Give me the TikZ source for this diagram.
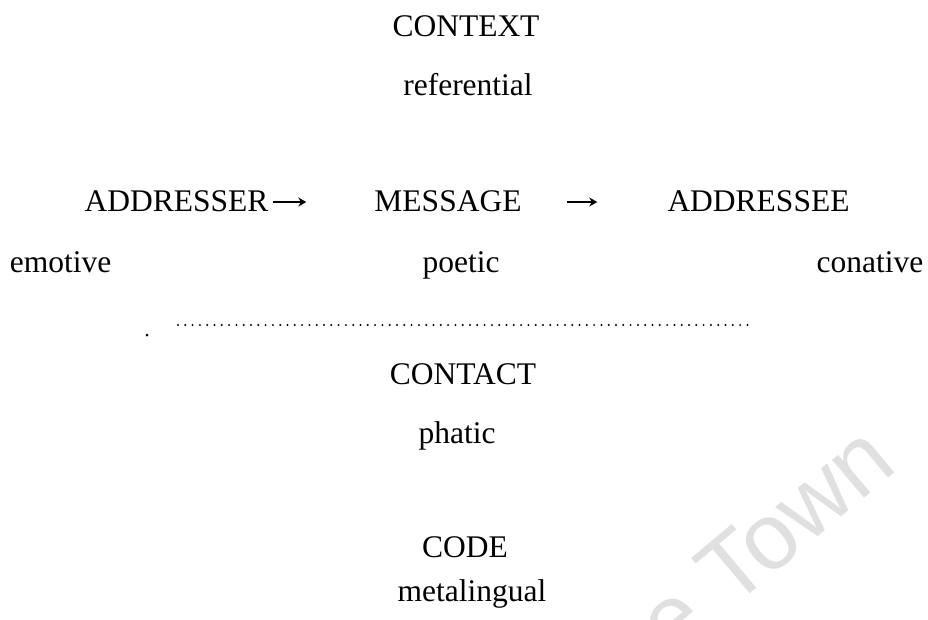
\documentclass[tikz,border=0pt]{standalone}
\usepackage{fontspec}
\setmainfont{Liberation Serif}
\newfontfamily\wmfont{Liberation Sans}
\usepackage{xcolor}
\usepackage{tikz}
\usetikzlibrary{arrows.meta}

\begin{document}
\begin{tikzpicture}[x=1pt, y=-1pt, node distance=59pt,
    lbl/.style={inner sep=0pt, text height=21pt, text depth=7pt, font=\fontsize{31.5}{36}\selectfont},
    flow/.style={-{Stealth[length=8pt,width=9pt]}, line width=1.3pt},
    dotline/.style={line width=2.2pt, line cap=round, dash pattern=on 0pt off 7.3pt},
    wmark/.style={inner sep=0pt, rotate=40, text=black!12, font=\wmfont\fontsize{94}{94}\selectfont}]
      \useasboundingbox (0,0) rectangle (928,619);
      \clip (0,0) rectangle (928,619);
      \node (wm) [wmark] at (765,540) {e Town};

      \node (context) [lbl] at (466,29) {CONTEXT};
      \node (referential) [lbl, below of=context, xshift=2pt] {referential};
      \node (addresser) [lbl] at (176.5,204) {ADDRESSER};
      \node (message) [lbl] at (448,204) {MESSAGE};
      \node (addressee) [lbl] at (758.5,204) {ADDRESSEE};
      \node (emotive) [lbl] at (60.5,265) {emotive};
      \node (poetic) [lbl] at (461,265) {poetic};
      \node (conative) [lbl] at (870,265) {conative};
      \node (contact) [lbl] at (463,377) {CONTACT};
      \node (phatic) [lbl, below of=contact, xshift=-6pt] {phatic};
      \node (code) [lbl] at (465,550) {CODE};
      \node (metalingual) [lbl, below of=code, xshift=7pt, yshift=15pt] {metalingual};

      \draw[flow, shorten <=4pt, shorten >=68pt] ([yshift=2pt]addresser.east) -- ([yshift=2pt]message.west);
      \draw[flow, shorten <=45pt, shorten >=70pt] ([yshift=2pt]message.east) -- ([yshift=2pt]addressee.west);

      \coordinate (dotl) at (178,325);
      \coordinate (dotr) at (752,325);
      \draw[dotline] (dotl) -- (dotr);
      \fill (147,335) circle (1.5pt);
    \end{tikzpicture}
\end{document}
